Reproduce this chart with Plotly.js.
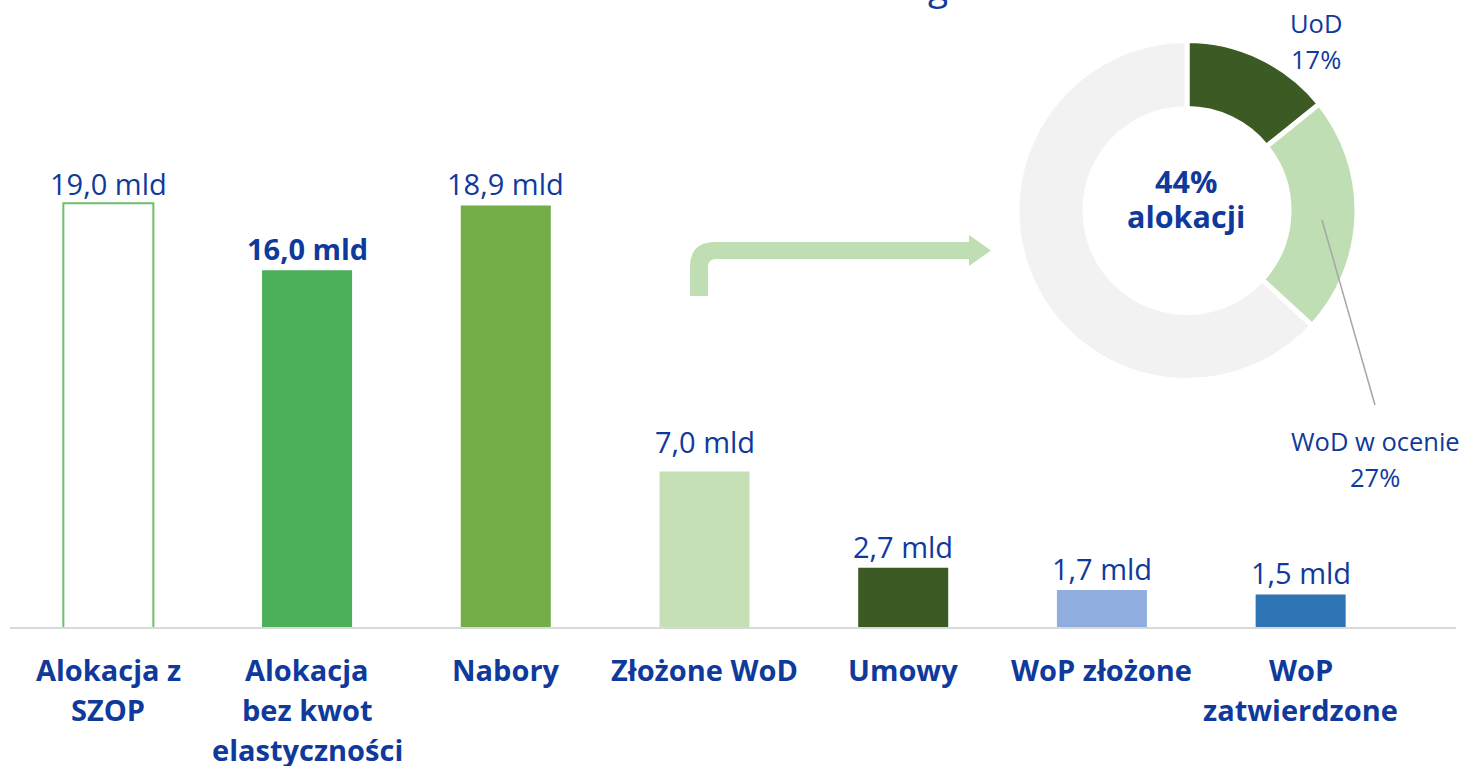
<!DOCTYPE html>
<html><head><meta charset="utf-8">
<script src="https://cdn.plot.ly/plotly-3.0.1.min.js"></script>
<style>html,body{margin:0;padding:0;background:#fff;overflow:hidden}#chart{width:1466px;height:766px}</style>
</head><body><div id="chart"></div>
<script>
// ---- data ----
const categories = ["Alokacja z\nSZOP", "Alokacja\nbez kwot\nelastyczności", "Nabory", "Złożone WoD", "Umowy", "WoP złożone", "WoP\nzatwierdzone"];
const values = [19.0, 16.0, 18.9, 7.0, 2.7, 1.7, 1.5];
const valueLabels = ["19,0 mld", "16,0 mld", "18,9 mld", "7,0 mld", "2,7 mld", "1,7 mld", "1,5 mld"];
const boldLabelIndex = 1;
const donutLabels = ["UoD", "WoD w ocenie", "Pozostało"];
const donutValues = [2.7, 4.3, 12.0];
const donutPctText = ["17%", "27%"];
const centerText = ["44%", "alokacji"];

// ---- styles ----
const BLUE = "#0f3a9c";
const FONT = "Open Sans, Noto Sans, sans-serif";
const barColors = ["#ffffff", "#4caf5a", "#72ad47", "#c6e0b5", "#3b5a24", "#8fadde", "#2f75b6"];
const barLineColors = ["#6cbf6c", "rgba(0,0,0,0)", "rgba(0,0,0,0)", "rgba(0,0,0,0)", "rgba(0,0,0,0)", "rgba(0,0,0,0)", "rgba(0,0,0,0)"];
const barLineWidths = [2, 0, 0, 0, 0, 0, 0];
const donutColors = ["#3b5a24", "#c0deb3", "#f2f2f2"];

const W = 1466, H = 766, ML = 9, MR = 66, MT = 2, MB = 138;
const PW = W - ML - MR, PH = H - MT - MB;
const px = x => (x - ML) / PW;
const py = y => (H - MB - y) / PH;

const catKeys = categories.map((c, i) => "c" + i);

const bar = {
  type: "bar", x: catKeys, y: values,
  width: 0.453,
  marker: { color: barColors, line: { color: barLineColors, width: barLineWidths } },
  hoverinfo: "skip", showlegend: false
};

const cx = 1187, cy = 210.5, r = 170;
const pie = {
  type: "pie", values: donutValues, labels: donutLabels,
  marker: { colors: donutColors, line: { color: "#ffffff", width: 5 } },
  hole: 0.6, sort: false, direction: "clockwise", rotation: 0,
  textinfo: "none", hoverinfo: "skip", showlegend: false,
  domain: { x: [px(cx - r), px(cx + r)], y: [py(cy + r), py(cy - r)] }
};

const annotations = [];
// category labels
categories.forEach((c, i) => {
  c.split("\n").forEach((line, j) => {
    annotations.push({
      x: catKeys[i], xref: "x", y: 0, yref: "paper", yanchor: "middle",
      yshift: -(41 + 40 * j), showarrow: false,
      text: "<b>" + line + "</b>", font: { family: FONT, size: 29, color: BLUE }
    });
  });
});
// value labels
valueLabels.forEach((t, i) => {
  annotations.push({
    x: catKeys[i], xref: "x", y: values[i], yref: "y", yanchor: "bottom",
    yshift: i === 3 ? 9 : (i === 0 ? -2 : 0), showarrow: false,
    text: i === boldLabelIndex ? "<b>" + t + "</b>" : t,
    font: { family: FONT, size: 29, color: BLUE }
  });
});
// donut labels
const txt = (t, x, y, size, bold) => annotations.push({
  x: px(x), y: py(y), xref: "paper", yref: "paper", xanchor: "center", yanchor: "middle",
  showarrow: false, text: bold ? "<b>" + t + "</b>" : t, font: { family: FONT, size: size, color: BLUE }
});
txt(donutLabels[0], 1316, 23, 25.5, false);
txt(donutPctText[0], 1316, 59, 25.5, false);
txt(donutLabels[1], 1375, 441, 25.5, false);
txt(donutPctText[1], 1375, 477, 25.5, false);
txt(centerText[0], 1186, 181, 30.5, true);
txt(centerText[1], 1186, 216, 30.5, true);
// clipped title fragment
annotations.push({ x: px(938), y: py(-14), xref: "paper", yref: "paper", xanchor: "center", yanchor: "middle",
  showarrow: false, text: "g", font: { family: FONT, size: 37, color: BLUE } });

// arrow path (decoration)
const P = (x, y) => px(x).toFixed(5) + "," + py(y).toFixed(5);
const arrowPath = "M" + P(690, 296) + " L" + P(690, 267) + " Q" + P(690, 242) + " " + P(715, 242) +
  " L" + P(969, 242) + " L" + P(969, 235) + " L" + P(991, 250.5) + " L" + P(969, 266) + " L" + P(969, 259) +
  " L" + P(716, 259) + " Q" + P(708, 259) + " " + P(708, 267) + " L" + P(708, 296) + " Z";

const shapes = [
  { type: "line", xref: "paper", yref: "paper", x0: px(10), x1: px(1456), y0: 0, y1: 0,
    line: { color: "#d9d9d9", width: 2 }, layer: "above" },
  { type: "path", xref: "paper", yref: "paper", path: arrowPath, fillcolor: "#c0deb3", line: { width: 0 } },
  { type: "line", xref: "paper", yref: "paper", x0: px(1322), y0: py(220), x1: px(1375), y1: py(405),
    line: { color: "#a6a6a6", width: 1.5 }, layer: "above" }
];

const layout = {
  width: W, height: H,
  margin: { l: ML, r: MR, t: MT, b: MB, pad: 0 },
  paper_bgcolor: "#fff", plot_bgcolor: "rgba(0,0,0,0)",
  xaxis: { type: "category", range: [-0.5, 6.5], showticklabels: false, showgrid: false, zeroline: false, showline: false, ticks: "" },
  yaxis: { range: [0, 28], visible: false, showgrid: false, zeroline: false },
  annotations: annotations, shapes: shapes,
  font: { family: FONT }
};

Plotly.newPlot("chart", [bar, pie], layout, { displayModeBar: false, staticPlot: true });
</script></body></html>
